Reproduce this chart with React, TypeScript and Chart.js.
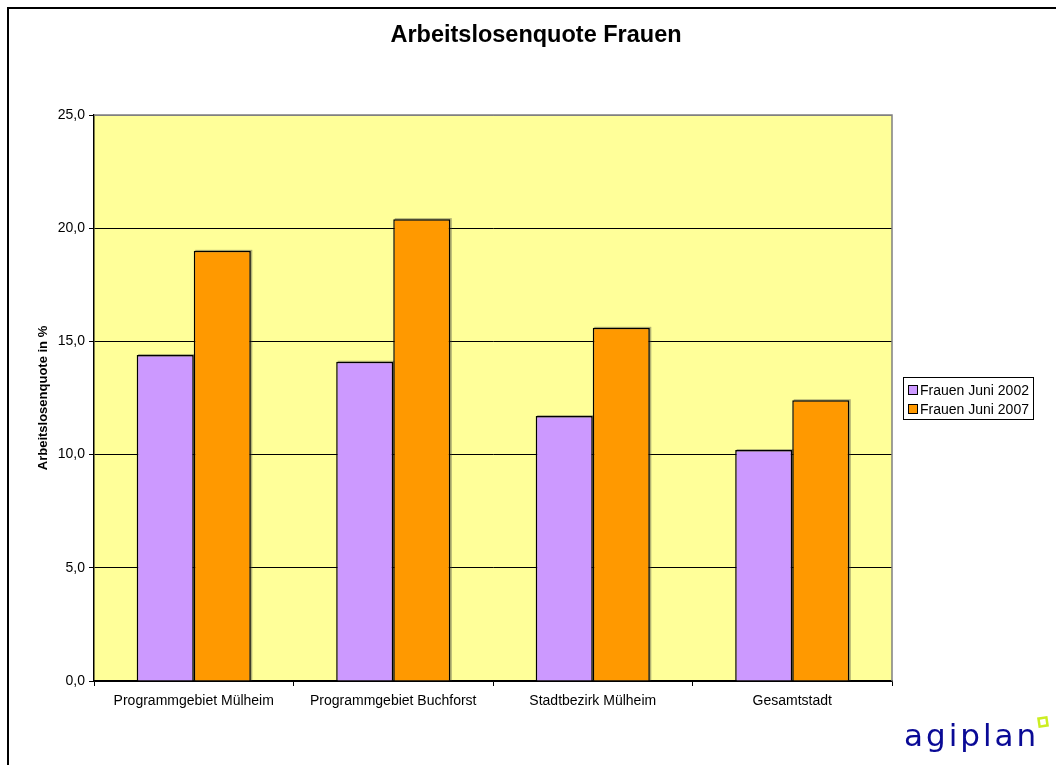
import React, { useEffect, useRef } from "react";
import { Chart, registerables } from "chart.js";

Chart.register(...registerables);

const categories = [
  "Programmgebiet Mülheim",
  "Programmgebiet Buchforst",
  "Stadtbezirk Mülheim",
  "Gesamtstadt",
];
const series2002 = [14.4, 14.1, 11.7, 10.2];
const series2007 = [19.0, 20.4, 15.6, 12.4];
const seriesLabels = ["Frauen Juni 2002", "Frauen Juni 2007"];
const seriesColors = ["#CC99FF", "#FF9900"];
const chartTitle = "Arbeitslosenquote Frauen";
const yTitle = "Arbeitslosenquote in %";
const logoText = "agiplan";

const FONT = "'Liberation Sans', Arial, sans-serif";

const decorPlugin = {
  id: "decor",
  beforeDraw(chart: any) {
    const { ctx, chartArea } = chart;
    ctx.save();
    ctx.fillStyle = "#ffffff";
    ctx.fillRect(0, 0, chart.width, chart.height);
    ctx.strokeStyle = "#000";
    ctx.lineWidth = 2;
    ctx.strokeRect(8, 8, chart.width + 20, chart.height + 20);
    ctx.fillStyle = "#FFFF99";
    ctx.fillRect(chartArea.left, chartArea.top, chartArea.right - chartArea.left, chartArea.bottom - chartArea.top);
    ctx.restore();
  },
  beforeDatasetsDraw(chart: any) {
    const { ctx } = chart;
    ctx.save();
    ctx.fillStyle = "rgba(60,60,60,0.4)";
    chart.data.datasets.forEach((_: any, i: number) => {
      const meta = chart.getDatasetMeta(i);
      meta.data.forEach((bar: any) => {
        const p = bar.getProps(["x", "y", "base", "width"], true);
        const left = p.x - p.width / 2;
        ctx.fillRect(left + 1.5, p.y - 1, p.width, p.base - p.y + 1);
      });
    });
    ctx.restore();
  },
  afterDatasetsDraw(chart: any) {
    const { ctx, chartArea } = chart;
    ctx.save();
    ctx.strokeStyle = "#808080";
    ctx.lineWidth = 1.5;
    ctx.beginPath();
    ctx.moveTo(chartArea.left, chartArea.top);
    ctx.lineTo(chartArea.right, chartArea.top);
    ctx.lineTo(chartArea.right, chartArea.bottom);
    ctx.stroke();
    ctx.restore();
  },
  afterDraw(chart: any) {
    const { ctx } = chart;
    ctx.save();
    ctx.fillStyle = "#000";
    ctx.font = `bold 23.5px ${FONT}`;
    ctx.textAlign = "center";
    ctx.textBaseline = "middle";
    ctx.fillText(chartTitle, 536, 36);

    const lx = 903, ly = 377, lw = 130, lh = 42;
    ctx.fillStyle = "#fff";
    ctx.fillRect(lx, ly, lw, lh);
    ctx.strokeStyle = "#000";
    ctx.lineWidth = 1;
    ctx.strokeRect(lx + 0.5, ly + 0.5, lw, lh);
    ctx.font = `14px ${FONT}`;
    ctx.textAlign = "left";
    chart.data.datasets.forEach((ds: any, i: number) => {
      const cy = 390 + i * 19;
      ctx.fillStyle = ds.backgroundColor;
      ctx.fillRect(908, cy - 5, 9, 9);
      ctx.strokeStyle = "#000";
      ctx.strokeRect(908.5, cy - 4.5, 9, 9);
      ctx.fillStyle = "#000";
      ctx.fillText(ds.label, 920, cy + 1);
    });

    ctx.fillStyle = "#0a0a96";
    ctx.font = `31px 'DejaVu Sans', sans-serif`;
    (ctx as any).letterSpacing = "3px";
    ctx.textAlign = "left";
    ctx.textBaseline = "alphabetic";
    ctx.fillText(logoText, 904, 746);
    (ctx as any).letterSpacing = "0px";
    ctx.strokeStyle = "#ccee22";
    ctx.lineWidth = 2.5;
    ctx.save();
    ctx.translate(1043, 722);
    ctx.rotate(-0.15);
    ctx.strokeRect(-4, -4, 8, 8);
    ctx.restore();
    ctx.restore();
  },
};

export default function App() {
  const ref = useRef<HTMLCanvasElement | null>(null);
  useEffect(() => {
    if (!ref.current) return;
    const chart = new Chart(ref.current, {
      type: "bar",
      data: {
        labels: categories,
        datasets: [
          {
            label: seriesLabels[0],
            data: series2002,
            backgroundColor: seriesColors[0],
            borderColor: "#000",
            borderWidth: 1.5,
            categoryPercentage: 0.572,
            barPercentage: 1,
          },
          {
            label: seriesLabels[1],
            data: series2007,
            backgroundColor: seriesColors[1],
            borderColor: "#000",
            borderWidth: 1.5,
            categoryPercentage: 0.572,
            barPercentage: 1,
          },
        ],
      },
      options: {
        animation: false,
        responsive: false,
        maintainAspectRatio: false,
        layout: { padding: { left: 0, top: 115, right: 164, bottom: 0 } },
        plugins: {
          legend: { display: false },
          title: { display: false },
          tooltip: { enabled: false },
        },
        scales: {
          x: {
            grid: {
              offset: true,
              drawOnChartArea: false,
              color: "#000",
              tickColor: "#000",
              tickLength: 5,
            },
            border: { color: "#000", width: 1.5 },
            ticks: {
              color: "#000",
              font: { family: FONT, size: 14 },
              padding: 7,
              maxRotation: 0,
              autoSkip: false,
            },
            afterFit: (s: any) => {
              s.height = 84;
            },
          },
          y: {
            min: 0,
            max: 25,
            ticks: {
              stepSize: 5,
              color: "#000",
              font: { family: FONT, size: 14 },
              padding: 4,
              callback: (v: any) => Number(v).toFixed(1).replace(".", ","),
            },
            grid: {
              color: (c: any) => (c.tick && c.tick.value === 25 ? "#808080" : "#000"),
              tickColor: "#000",
              tickLength: 5,
              lineWidth: 1,
            },
            border: { color: "#000", width: 1.5 },
            title: {
              display: true,
              text: yTitle,
              color: "#000",
              font: { family: FONT, size: 13, weight: "bold" },
              padding: { top: 36, bottom: 0 },
            },
            afterFit: (s: any) => {
              s.width = 94;
            },
          },
        },
      },
      plugins: [decorPlugin],
    });
    return () => chart.destroy();
  }, []);
  return (
    <div style={{ position: "fixed", left: 0, top: 0, width: 1056, height: 765 }}>
      <canvas ref={ref} width={1056} height={765} style={{ display: "block", width: 1056, height: 765 }} />
    </div>
  );
}
